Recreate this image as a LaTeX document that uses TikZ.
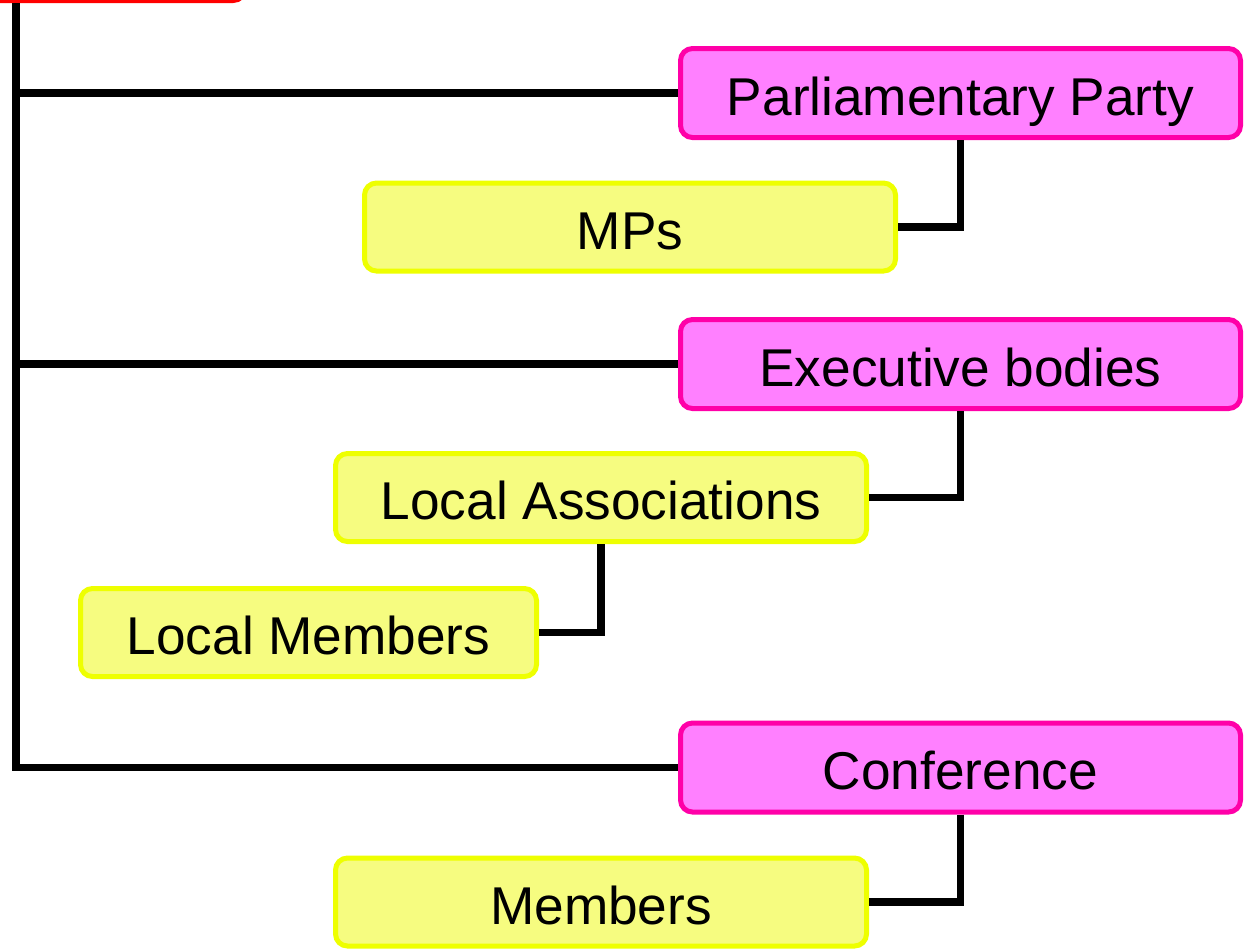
\documentclass[tikz,border=0pt]{standalone}
\usepackage{fontspec}
\setmainfont{Liberation Sans}
\usepackage{tikz}

\definecolor{bodyfill}{HTML}{FF80FF}
\definecolor{bodyedge}{HTML}{FF00A8}
\definecolor{memberfill}{HTML}{F6FC80}
\definecolor{memberedge}{HTML}{EEFF00}

\tikzset{
  body/.style={draw=bodyedge, fill=bodyfill, line width=2.5pt, rounded corners=6pt,
    minimum width=280pt, minimum height=44.5pt, inner sep=0pt,
    text height=24pt, text depth=2pt},
  member/.style={draw=memberedge, fill=memberfill, line width=2.5pt, rounded corners=6pt,
    minimum width=265.5pt, minimum height=44pt, inner sep=0pt,
    text height=24pt, text depth=2pt},
  leaderbox/.style={draw=red, line width=3pt, rounded corners=6pt,
    minimum width=151pt, minimum height=50pt},
  link/.style={line width=3.6pt}
}

\begin{document}
\begin{tikzpicture}[x=0.5pt, y=-0.5pt, font=\fontsize{26.6pt}{32pt}\selectfont]
            \useasboundingbox (0,0) rectangle (1245,950);
            \node[leaderbox, anchor=south west] (leader) at (-60,3) {};
            \coordinate (trunk) at (16,3);
            \node[body] (party) at (960.5,93) {Parliamentary Party};
            \node[member] (mps) at (630,227) {MPs};
            \node[body] (exec) at (960.5,364) {Executive bodies};
            \node[member] (assoc) at (601,497.5) {Local Associations};
            \node[member, minimum width=228pt] (localmem) at (308.5,632.5) {Local Members};
            \node[body] (conf) at (960.5,767.5) {Conference};
            \node[member] (members) at (601,902) {Members};
            \draw[link] (trunk |- leader.south) |- (conf.west);
            \draw[link] (party.west -| trunk) -- (party.west);
            \draw[link] (exec.west -| trunk) -- (exec.west);
            \draw[link] (party.south) |- (mps.east);
            \draw[link] (exec.south) |- (assoc.east);
            \draw[link] (assoc.south) |- (localmem.east);
            \draw[link] (conf.south) |- (members.east);
        \end{tikzpicture}
\end{document}
